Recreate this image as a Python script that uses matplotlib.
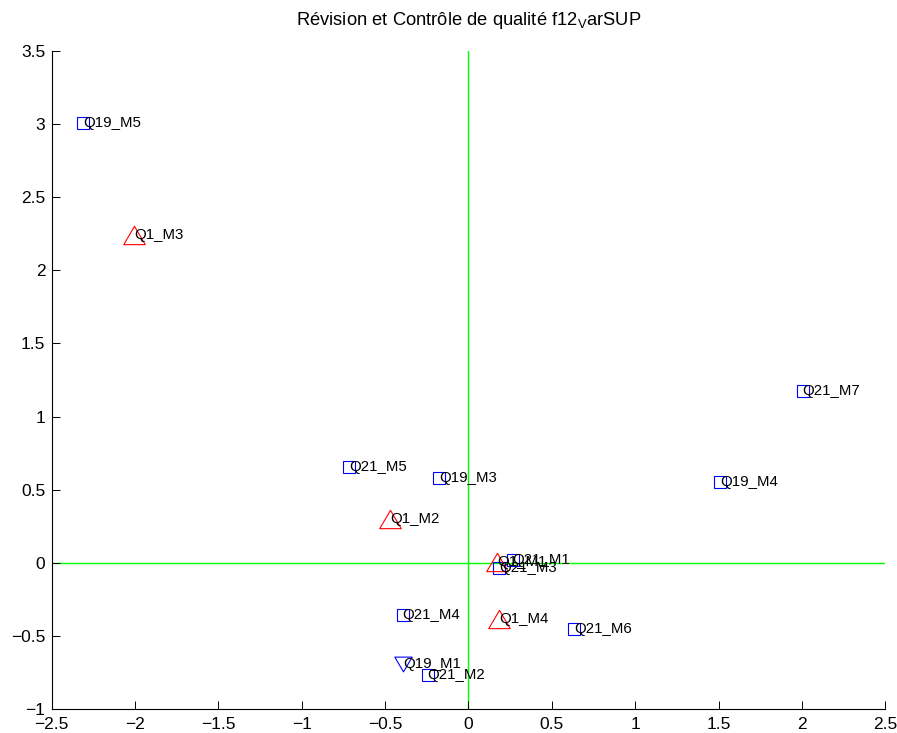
import matplotlib

matplotlib.use("Agg")
import matplotlib.pyplot as plt
from matplotlib.path import Path

plt.rcParams["font.family"] = ["Liberation Sans", "DejaVu Sans"]
plt.rcParams["mathtext.fontset"] = "custom"
plt.rcParams["mathtext.rm"] = "Liberation Sans"
plt.rcParams["mathtext.it"] = "Liberation Sans:italic"

TITLE = r"Révision et Contrôle de qualité f12$_{\mathrm{V}}$arSUP"

# blue squares
SQUARE_LABELS = ["Q19_M5", "Q21_M7", "Q19_M4", "Q21_M5", "Q19_M3",
                 "Q21_M1", "Q21_M3", "Q21_M4", "Q21_M6", "Q21_M2"]
SQUARE_X = [-2.31, 2.005, 1.51, -0.715, -0.175, 0.265, 0.184, -0.395, 0.634, -0.245]
SQUARE_Y = [3.005, 1.178, 0.555, 0.658, 0.58, 0.02, -0.034, -0.36, -0.45, -0.767]

# red triangles
TRI_UP_LABELS = ["Q1_M3", "Q1_M2", "Q1_M1", "Q1_M4"]
TRI_UP_X = [-2.005, -0.47, 0.172, 0.184]
TRI_UP_Y = [2.24, 0.30, 0.005, -0.385]

# blue down triangle
TRI_DOWN_LABELS = ["Q19_M1"]
TRI_DOWN_X = [-0.39]
TRI_DOWN_Y = [-0.69]

X_TICKS = [-2.5, -2, -1.5, -1, -0.5, 0, 0.5, 1, 1.5, 2, 2.5]
Y_TICKS = [-1, -0.5, 0, 0.5, 1, 1.5, 2, 2.5, 3, 3.5]


def tick_text(v):
    s = f"{v:g}"
    return s.replace("-", "\u2212")


def triangle(flip=1):
    verts = [(0, 0.85 * flip), (-1, -0.85 * flip), (1, -0.85 * flip), (0, 0.85 * flip)]
    codes = [Path.MOVETO, Path.LINETO, Path.LINETO, Path.CLOSEPOLY]
    return Path(verts, codes)


def main():
    fig = plt.figure(figsize=(8.97, 7.33), dpi=100)
    ax = fig.add_axes([0.0576, 0.0327, 0.9293, 0.8977])

    green = (0, 1, 0)
    ax.plot([0, 0], [Y_TICKS[0], Y_TICKS[-1]], color=green, lw=1.0, zorder=1)
    ax.plot([X_TICKS[0], X_TICKS[-1]], [0, 0], color=green, lw=1.0, zorder=1)

    ax.plot(SQUARE_X, SQUARE_Y, linestyle="none", marker="s", ms=8.6,
            mfc="none", mec="blue", mew=0.8, zorder=2, clip_on=False)
    ax.plot(TRI_UP_X, TRI_UP_Y, linestyle="none", marker=triangle(1), ms=15.5,
            mfc="none", mec="red", mew=0.8, zorder=2, clip_on=False)
    ax.plot(TRI_DOWN_X, TRI_DOWN_Y, linestyle="none", marker=triangle(-1), ms=12.5,
            mfc="none", mec="blue", mew=0.8, zorder=2, clip_on=False)

    for labels, xs, ys in [(SQUARE_LABELS, SQUARE_X, SQUARE_Y),
                           (TRI_UP_LABELS, TRI_UP_X, TRI_UP_Y),
                           (TRI_DOWN_LABELS, TRI_DOWN_X, TRI_DOWN_Y)]:
        for lab, x, y in zip(labels, xs, ys):
            ax.text(x, y, lab, ha="left", va="center", fontsize=10.8,
                    color="black", zorder=3)

    ax.set_xlim(X_TICKS[0], X_TICKS[-1])
    ax.set_ylim(Y_TICKS[0], Y_TICKS[-1])
    ax.set_xticks(X_TICKS)
    ax.set_yticks(Y_TICKS)
    ax.set_xticklabels([tick_text(v) for v in X_TICKS])
    ax.set_yticklabels([tick_text(v) for v in Y_TICKS])
    ax.tick_params(axis="both", direction="in", length=5.7, width=0.7,
                   labelsize=12.5, colors="black")
    ax.tick_params(axis="x", pad=6)
    ax.tick_params(axis="y", pad=4.5)

    for side in ["top", "right"]:
        ax.spines[side].set_visible(False)
    for side in ["left", "bottom"]:
        ax.spines[side].set_linewidth(0.8)
        ax.spines[side].set_color("black")

    fig.text(468.5 / 897, 1 - 25 / 733, TITLE, ha="center", va="baseline",
             fontsize=13.2)

    fig.savefig("out.png", dpi=100)
    plt.close(fig)


if __name__ == "__main__":
    main()
